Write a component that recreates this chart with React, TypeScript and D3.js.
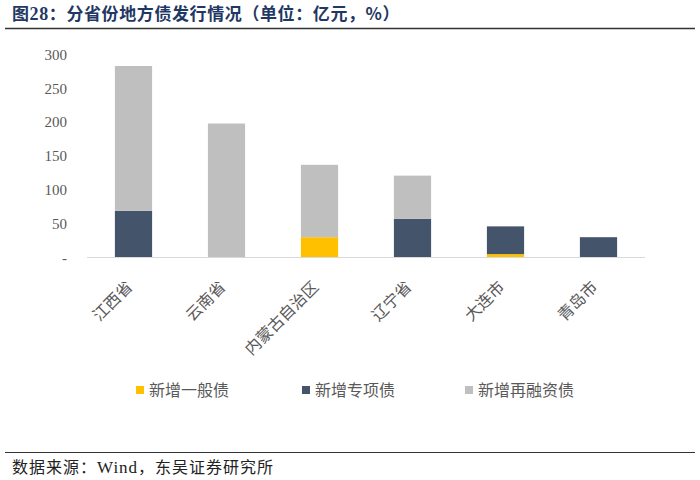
import React from 'react';
import * as d3 from 'd3';

const categories = ['江西省', '云南省', '内蒙古自治区', '辽宁省', '大连市', '青岛市'];
const generalBond = [0, 0, 30, 0, 5, 0];
const specialBond = [69, 0, 0, 57, 41, 30];
const refinanceBond = [214, 198, 107, 64, 0, 0];
const seriesNames = ['新增一般债', '新增专项债', '新增再融资债'];
const seriesColors = ['#FFC000', '#44546A', '#BFBFBF'];
const yTicks = [0, 50, 100, 150, 200, 250, 300];

const W = 700;
const H = 480;
const CJK = '"Noto Sans CJK SC", "Noto Sans", sans-serif';
const SERIF = '"Liberation Serif", "DejaVu Serif", serif';

export default function App() {
  const x = d3.scaleBand<string>().domain(categories).range([87, 645]).paddingInner(0.6).paddingOuter(0.3);
  const y = d3.scaleLinear().domain([0, 300]).range([257.5, 54.5]);

  const table = categories.map((c, i) => ({
    cat: c,
    g: generalBond[i],
    s: specialBond[i],
    r: refinanceBond[i],
  }));
  const stack = d3.stack<any>().keys(['g', 's', 'r'])(table);

  return (
    <svg width={W} height={H} style={{ position: 'absolute', left: 0, top: 0, background: '#fff' }}>
      <rect x={0} y={0} width={W} height={H} fill="#fff" />
      {/* title */}
      <text x={12} y={20} fontFamily={CJK} fontWeight="bold" fontSize={17} fill="#1F3864" letterSpacing={0.6}>
        <tspan fontFamily={CJK}>图</tspan>
        <tspan fontFamily={SERIF} fontWeight="bold" fontSize={18}>28</tspan>
        <tspan>：分省份地方债发行情况（单位：亿元，%）</tspan>
      </text>
      <line x1={5} x2={695} y1={28.5} y2={28.5} stroke="#333" strokeWidth={1.5} />

      {/* y ticks */}
      {yTicks.map((t) => (
        <text key={t} x={67} y={y(t)} dy="0.35em" textAnchor="end" fontFamily={SERIF} fontSize={15} fill="#595959">
          {t === 0 ? '-' : d3.format('d')(t)}
        </text>
      ))}

      {/* bars */}
      {stack.map((layer, li) =>
        layer.map((d, i) => {
          const h = y(d[0]) - y(d[1]);
          if (h <= 0) return null;
          return (
            <rect
              key={`${li}-${i}`}
              x={x(categories[i])}
              y={y(d[1])}
              width={x.bandwidth()}
              height={h}
              fill={seriesColors[li]}
            />
          );
        })
      )}

      {/* x axis */}
      <line x1={87} x2={645} y1={257.5} y2={257.5} stroke="#D9D9D9" strokeWidth={1} />

      {/* category labels */}
      {categories.map((c) => {
        const cx = (x(c) as number) + x.bandwidth() / 2;
        return (
          <text
            key={c}
            transform={`translate(${cx},${288}) rotate(-45)`}
            textAnchor="end"
            fontFamily={CJK}
            fontSize={16}
            fill="#595959"
          >
            {c}
          </text>
        );
      })}

      {/* legend */}
      {seriesNames.map((n, i) => {
        const lx = [136, 302, 465][i];
        return (
          <g key={n}>
            <rect x={lx} y={386} width={8} height={8} fill={seriesColors[i]} />
            <text x={lx + 13} y={390} dy="0.35em" fontFamily={CJK} fontSize={16} fill="#595959">
              {n}
            </text>
          </g>
        );
      })}

      {/* footer */}
      <line x1={5} x2={695} y1={452.5} y2={452.5} stroke="#333" strokeWidth={1.2} />
      <text x={12} y={473} fontFamily={CJK} fontSize={16} fill="#222" letterSpacing={1}>
        <tspan>数据来源：</tspan>
        <tspan fontFamily={SERIF} fontSize={17}>Wind</tspan>
        <tspan>，东吴证券研究所</tspan>
      </text>
    </svg>
  );
}
